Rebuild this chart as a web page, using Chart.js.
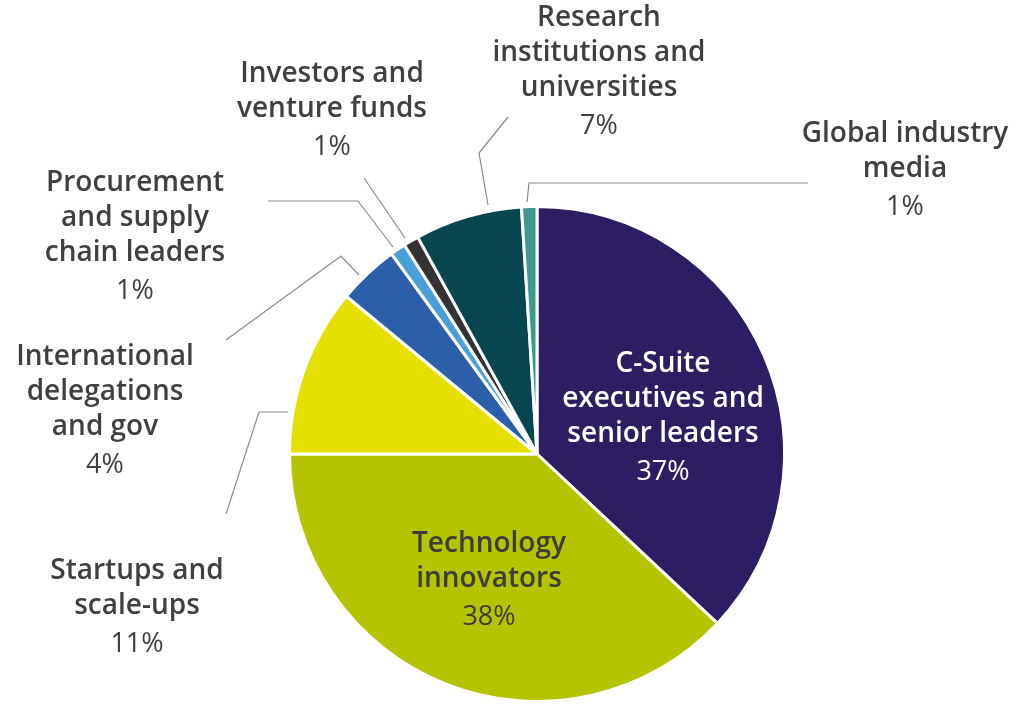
<!DOCTYPE html>
<html><head><meta charset="utf-8">
<script src="https://cdn.jsdelivr.net/npm/chart.js@4.4.0/dist/chart.umd.min.js"></script>
<style>html,body{margin:0;padding:0;background:#fff;}#wrap{width:1024px;height:706px;position:relative;}</style>
</head><body><div id="wrap"><canvas id="c" width="1024" height="706"></canvas></div>
<script>
const categories = ["C-Suite executives and senior leaders","Technology innovators","Startups and scale-ups","International delegations and gov","Procurement and supply chain leaders","Investors and venture funds","Research institutions and universities","Global industry media"];
const shares = [37, 38, 11, 4, 1, 1, 7, 1];
const colors = ["#2d1e63","#b5c400","#e6e000","#2c5faa","#4a9fd8","#333333","#07454f","#3d9990"];
const labelLines = [
  ["C-Suite","executives and","senior leaders"],
  ["Technology","innovators"],
  ["Startups and","scale-ups"],
  ["International","delegations","and gov"],
  ["Procurement","and supply","chain leaders"],
  ["Investors and","venture funds"],
  ["Research","institutions and","universities"],
  ["Global industry","media"]
];
// layout: label anchor (center x, baseline of first line), text color, leader polyline
const labelLayout = [
  {x:663, y:372, color:"#ffffff", leader:null},
  {x:489, y:552, color:"#3d3d3d", leader:null},
  {x:137, y:579, color:"#404040", leader:[[288,412],[259,412],[226,514]]},
  {x:105, y:365, color:"#404040", leader:[[359,275],[341,256],[226,340]]},
  {x:135, y:191, color:"#404040", leader:[[393,247],[358,201],[268,201]]},
  {x:332, y:82,  color:"#404040", leader:[[405,238],[364,178]]},
  {x:599, y:26,  color:"#404040", leader:[[488,205],[479,153],[508,117]]},
  {x:905, y:142, color:"#404040", leader:[[527,202],[529,183],[808,183]]}
];
const FONT = "'Open Sans', 'Noto Sans', sans-serif";
const labelPlugin = {
  id:'labels',
  afterDatasetsDraw(chart){
    const ctx = chart.ctx;
    ctx.save();
    labelLayout.forEach((L,i)=>{
      if(L.leader){
        ctx.strokeStyle="#8a8a8a"; ctx.lineWidth=1.2;
        ctx.beginPath();
        L.leader.forEach((p,j)=> j?ctx.lineTo(p[0],p[1]):ctx.moveTo(p[0],p[1]));
        ctx.stroke();
      }
      ctx.fillStyle=L.color; ctx.textAlign="center"; ctx.textBaseline="alphabetic";
      ctx.font="600 28px "+FONT;
      const lines=labelLines[i];
      lines.forEach((t,k)=>ctx.fillText(t,L.x,L.y+k*35));
      ctx.font="400 27px "+FONT;
      ctx.fillText(shares[i]+"%",L.x,L.y+lines.length*35+3);
    });
    ctx.restore();
  }
};
new Chart(document.getElementById('c'),{
  type:'pie',
  data:{labels:categories,datasets:[{data:shares,backgroundColor:colors,borderColor:"#ffffff",borderWidth:3}]},
  options:{
    responsive:false,animation:false,
    layout:{padding:{left:288,right:238,top:205,bottom:3}},
    plugins:{legend:{display:false},tooltip:{enabled:false}}
  },
  plugins:[labelPlugin]
});
</script></body></html>
